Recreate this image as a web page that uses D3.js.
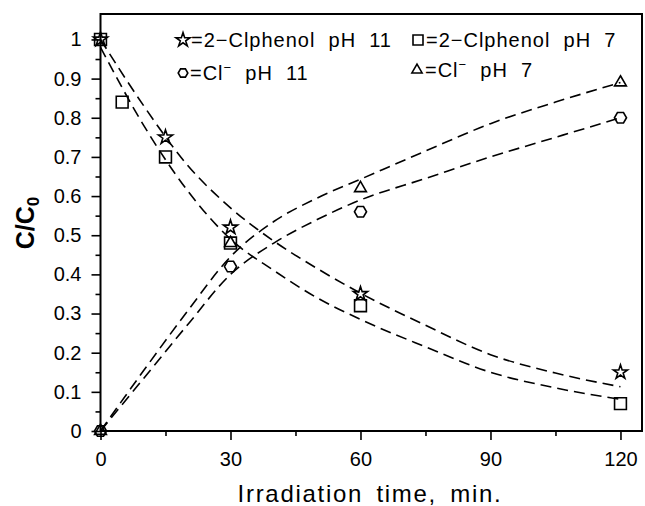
<!DOCTYPE html>
<html>
<head>
<meta charset="utf-8">
<script src="https://cdn.jsdelivr.net/npm/d3@7"></script>
<style>
  html, body { margin: 0; padding: 0; background: #fff; }
  svg text { font-family: "Liberation Sans", Arial, sans-serif; fill: #000; }
</style>
</head>
<body>
<svg id="chart" width="645" height="506"></svg>
<script>
// Measured points, irradiation time in minutes.
var phenol11X = [0, 15, 30, 60, 120];
var phenol11Y = [1.0, 0.75, 0.52, 0.35, 0.15];
var phenol7X = [0, 5, 15, 30, 60, 120];
var phenol7Y = [1.0, 0.84, 0.70, 0.48, 0.32, 0.07];
var chloride11X = [0, 30, 60, 120];
var chloride11Y = [0.0, 0.42, 0.56, 0.80];
var chloride7X = [0, 30, 60, 120];
var chloride7Y = [0.0, 0.48, 0.62, 0.89];

// Fitted dashed curves.
var fitX = [0, 10, 20, 30, 40, 50, 60, 75, 90, 105, 120];
var fitPhenol11 = [1.0, 0.83, 0.68, 0.57, 0.485, 0.415, 0.352, 0.27, 0.195, 0.148, 0.113];
var fitPhenol7 = [0.98, 0.78, 0.615, 0.49, 0.41, 0.34, 0.285, 0.215, 0.15, 0.11, 0.081];
var fitChloride7 = [0.0, 0.155, 0.305, 0.445, 0.535, 0.595, 0.643, 0.715, 0.785, 0.84, 0.89];
var fitChloride11 = [0.0, 0.135, 0.27, 0.40, 0.48, 0.54, 0.59, 0.645, 0.70, 0.75, 0.80];

// Ticks.
var xTicks = [0, 30, 60, 90, 120];
var xMinorTicks = [15, 45, 75, 105];
var yTicks = [0, 0.1, 0.2, 0.3, 0.4, 0.5, 0.6, 0.7, 0.8, 0.9, 1];
var yMinorTicks = [0.05, 0.15, 0.25, 0.35, 0.45, 0.55, 0.65, 0.75, 0.85, 0.95];

var svg = d3.select('#chart');

var x = d3.scaleLinear().domain([0, 125.2]).range([100.5, 643]);
var y = d3.scaleLinear().domain([0, 1.065]).range([431, 14]);

// Hexagon with flat top and bottom.
var symbolHexagon = {
  draw: function(context, size) {
    var r = Math.sqrt(size / (1.5 * Math.sqrt(3)));
    for (var i = 0; i < 6; i++) {
      var a = i * Math.PI / 3;
      if (i === 0) context.moveTo(r * Math.cos(a), r * Math.sin(a));
      else context.lineTo(r * Math.cos(a), r * Math.sin(a));
    }
    context.closePath();
  }
};

// Axes: major ticks with labels, minor ticks without.
function cleanAxis(g) {
  g.select('.domain').remove();
  g.selectAll('line').attr('stroke', '#000').attr('stroke-width', 1.6);
  g.selectAll('text').style('font-size', '20px').attr('fill', '#000');
}

svg.append('g')
  .attr('transform', 'translate(0,' + y(0) + ')')
  .call(d3.axisBottom(x).tickValues(xTicks).tickSize(9).tickPadding(12)
    .tickFormat(d3.format('d')))
  .call(cleanAxis);

svg.append('g')
  .attr('transform', 'translate(0,' + y(0) + ')')
  .call(d3.axisBottom(x).tickValues(xMinorTicks).tickSize(5).tickFormat(''))
  .call(cleanAxis);

svg.append('g')
  .attr('transform', 'translate(' + x(0) + ',0)')
  .call(d3.axisLeft(y).tickValues(yTicks).tickSize(9).tickPadding(10)
    .tickFormat(function(d) { return d === 0 || d === 1 ? String(d) : d.toFixed(1); }))
  .call(cleanAxis);

svg.append('g')
  .attr('transform', 'translate(' + x(0) + ',0)')
  .call(d3.axisLeft(y).tickValues(yMinorTicks).tickSize(5).tickFormat(''))
  .call(cleanAxis);

// Frame.
svg.append('rect')
  .attr('x', x(0))
  .attr('y', y(1.065))
  .attr('width', x(125.2) - x(0) - 1)
  .attr('height', y(0) - y(1.065))
  .attr('fill', 'none')
  .attr('stroke', '#000')
  .attr('stroke-width', 2);

// Dashed fit curves.
var line = d3.line()
  .x(function(d) { return x(d[0]); })
  .y(function(d) { return y(d[1]); })
  .curve(d3.curveMonotoneX);

[fitPhenol11, fitPhenol7, fitChloride7, fitChloride11].forEach(function(vals) {
  svg.append('path')
    .datum(d3.zip(fitX, vals))
    .attr('d', line)
    .attr('fill', 'none')
    .attr('stroke', '#000')
    .attr('stroke-width', 1.6)
    .attr('stroke-dasharray', '11,6');
});

// Open markers.
var series = [
  { xs: chloride11X, ys: chloride11Y, type: symbolHexagon, size: 95 },
  { xs: chloride7X, ys: chloride7Y, type: d3.symbolTriangle, size: 60 },
  { xs: phenol7X, ys: phenol7Y, type: d3.symbolSquare, size: 140 },
  { xs: phenol11X, ys: phenol11Y, type: d3.symbolStar, size: 62 }
];

series.forEach(function(s) {
  svg.append('g').selectAll('path')
    .data(d3.zip(s.xs, s.ys))
    .join('path')
      .attr('transform', function(d) {
        return 'translate(' + x(d[0]) + ',' + y(d[1]) + ')';
      })
      .attr('d', d3.symbol().type(s.type).size(s.size))
      .attr('fill', 'none')
      .attr('stroke', '#000')
      .attr('stroke-width', 1.6);
});

// Legend.
var legend = [
  { type: d3.symbolStar, size: 62, sx: 183, sy: 40, tx: 191, text: ['=2\u2212Clphenol\u00a0 pH\u00a0 11'] },
  { type: d3.symbolSquare, size: 100, sx: 418, sy: 40, tx: 426, text: ['=2\u2212Clphenol\u00a0 pH\u00a0 7'] },
  { type: symbolHexagon, size: 60, sx: 183, sy: 73, tx: 190, text: ['=Cl', '\u00a0 pH\u00a0 11'] },
  { type: d3.symbolTriangle, size: 45, sx: 417, sy: 70, tx: 425, text: ['=Cl', '\u00a0 pH\u00a0 7'] }
];

legend.forEach(function(l) {
  svg.append('path')
    .attr('transform', 'translate(' + l.sx + ',' + l.sy + ')')
    .attr('d', d3.symbol().type(l.type).size(l.size))
    .attr('fill', 'none')
    .attr('stroke', '#000')
    .attr('stroke-width', 1.6);

  var t = svg.append('text')
    .attr('x', l.tx)
    .attr('y', l.sy + 7)
    .style('font-size', '20px')
    .style('letter-spacing', '1px');
  t.append('tspan').text(l.text[0]);
  if (l.text.length > 1) {
    t.append('tspan').attr('dy', -8).style('font-size', '13px').text('\u2212');
    t.append('tspan').attr('dy', 8).text(l.text[1]);
  }
});

// Axis titles.
svg.append('text')
  .attr('x', 370)
  .attr('y', 502)
  .attr('text-anchor', 'middle')
  .style('font-size', '24px')
  .style('letter-spacing', '1.7px')
  .style('word-spacing', '5px')
  .text('Irradiation time, min.');

var yTitle = svg.append('text')
  .attr('transform', 'translate(34,223) rotate(-90)')
  .attr('text-anchor', 'middle')
  .style('font-size', '25px')
  .style('font-weight', 'bold');
yTitle.append('tspan').text('C/C');
yTitle.append('tspan').attr('dy', 5).style('font-size', '17px').text('0');
</script>
</body>
</html>
